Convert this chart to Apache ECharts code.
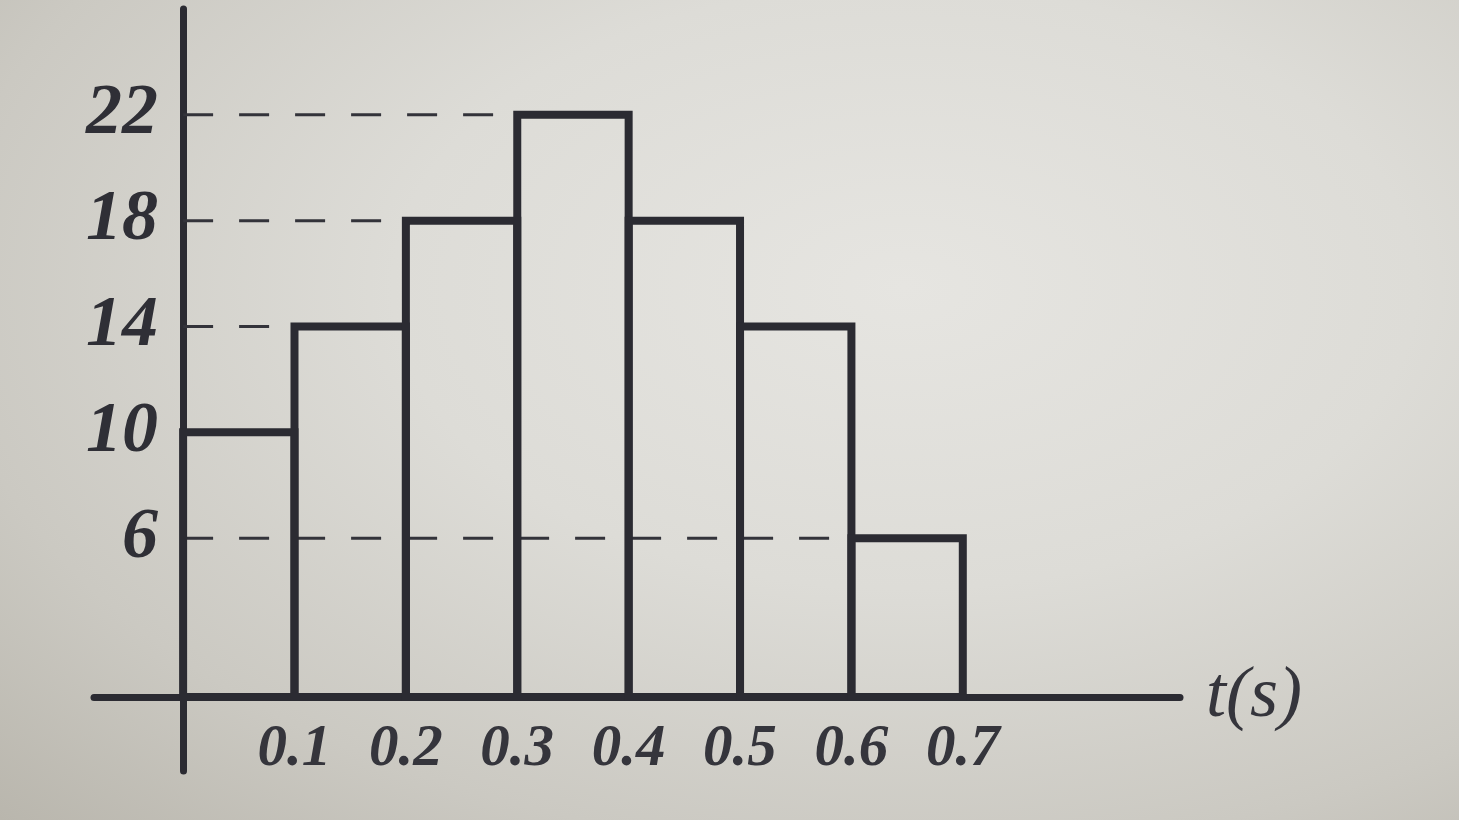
<!DOCTYPE html>
<html>
<head>
<meta charset="utf-8">
<script src="https://cdn.jsdelivr.net/npm/echarts@6/dist/echarts.min.js"></script>
<style>
html,body{margin:0;padding:0;width:100%;height:100%;overflow:hidden;}
#chart{width:1459px;height:820px;background:radial-gradient(ellipse at 62% 35%, #e6e5e1 0%, #dddcd7 40%, #cbc9c2 75%, #b9b6ad 100%);}
</style>
</head>
<body>
<div id="chart"></div>
<script>
// data
const binStarts = [0.0, 0.1, 0.2, 0.3, 0.4, 0.5, 0.6];
const binEnds   = [0.1, 0.2, 0.3, 0.4, 0.5, 0.6, 0.7];
const values    = [10, 14, 18, 22, 18, 14, 6];
const xTickValues = [0.1, 0.2, 0.3, 0.4, 0.5, 0.6, 0.7];
const yTickValues = [6, 10, 14, 18, 22];
const xAxisName = 't(s)';

const ink = '#2b2b32';
const serif = "'Liberation Serif','DejaVu Serif',serif";

const barData = values.map((v, i) => [binStarts[i], binEnds[i], v]);

// dashed guide lines: from the y axis to the first bar reaching each value
const guideData = [];
const seen = new Set();
values.forEach((v, i) => {
  if (seen.has(v)) return;
  seen.add(v);
  if (binStarts[i] > 0) guideData.push([0, binStarts[i], v]);
});

const chart = echarts.init(document.getElementById('chart'), null, {renderer: 'canvas'});
chart.setOption({
  backgroundColor: 'transparent',
  animation: false,
  grid: [
    // axis lines (extending past the origin)
    {left: 94, right: 279, top: 9, bottom: 49, containLabel: false, outerBoundsMode: 'none'},
    // labels, anchored at the origin
    {left: 183, right: 279, top: 9, bottom: 123, containLabel: false, outerBoundsMode: 'none'}
  ],
  xAxis: [
    {
      type: 'value', gridIndex: 0,
      min: -0.08, max: 0.895,
      axisLine: {show: true, onZero: true, lineStyle: {color: ink, width: 7}},
      axisTick: {show: false},
      splitLine: {show: false},
      axisLabel: {show: false},
      name: xAxisName,
      nameLocation: 'end',
      nameGap: 26,
      nameTextStyle: {fontSize: 72, fontStyle: 'italic', fontFamily: serif, color: '#35353c', verticalAlign: 'middle', padding: [0, 0, 8, 0]}
    },
    {
      type: 'value', gridIndex: 1,
      min: 0, max: 0.895,
      axisLine: {show: false},
      axisTick: {show: false},
      splitLine: {show: false},
      axisLabel: {
        customValues: xTickValues,
        formatter: v => v.toFixed(1),
        margin: 23,
        fontSize: 59,
        fontStyle: 'italic',
        fontWeight: 'bold',
        fontFamily: serif,
        color: '#35353c'
      }
    }
  ],
  yAxis: [
    {
      type: 'value', gridIndex: 0,
      min: -2.8, max: 26,
      axisLine: {show: true, onZero: true, lineStyle: {color: ink, width: 7}},
      axisTick: {show: false},
      splitLine: {show: false},
      axisLabel: {show: false}
    },
    {
      type: 'value', gridIndex: 1,
      min: 0, max: 26,
      axisLine: {show: false},
      axisTick: {show: false},
      splitLine: {show: false},
      axisLabel: {
        customValues: yTickValues,
        margin: 25,
        fontSize: 72,
        fontStyle: 'italic',
        fontWeight: 'bold',
        fontFamily: serif,
        color: '#2f2f36'
      }
    }
  ],
  series: [
    {
      type: 'custom',
      name: 'guides',
      xAxisIndex: 0, yAxisIndex: 0,
      data: guideData,
      encode: {x: [0, 1], y: 2},
      z: 1,
      renderItem: function (params, api) {
        const a = api.coord([api.value(0), api.value(2)]);
        const b = api.coord([api.value(1), api.value(2)]);
        return {
          type: 'line',
          shape: {x1: a[0], y1: a[1], x2: b[0], y2: b[1]},
          style: {stroke: '#33333a', lineWidth: 3, lineDash: [30, 26]}
        };
      }
    },
    {
      type: 'custom',
      name: 'histogram',
      xAxisIndex: 0, yAxisIndex: 0,
      data: barData,
      encode: {x: [0, 1], y: 2},
      z: 2,
      renderItem: function (params, api) {
        const p0 = api.coord([api.value(0), api.value(2)]);
        const p1 = api.coord([api.value(1), 0]);
        return {
          type: 'rect',
          shape: {x: p0[0], y: p0[1], width: p1[0] - p0[0], height: p1[1] - p0[1]},
          style: {fill: 'none', stroke: ink, lineWidth: 8}
        };
      }
    }
  ]
});
</script>
</body>
</html>
